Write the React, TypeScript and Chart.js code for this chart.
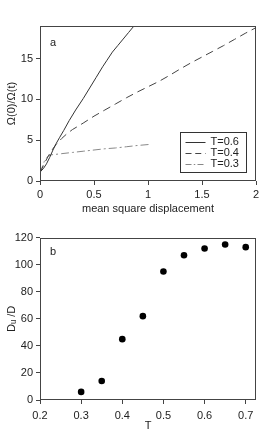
import React, { useEffect, useRef } from 'react';
import { Chart, registerables } from 'chart.js';

Chart.register(...registerables);

const FONT = '"Liberation Sans", Arial, Helvetica, sans-serif';
const TEXT = '#222';
const AXIS = '#444';

// ---- Panel a: Omega(0)/Omega(t) vs mean square displacement ----
const msdT06 = [0, 0.03, 0.06, 0.09, 0.12, 0.15, 0.18, 0.22, 0.27, 0.33, 0.4, 0.46, 0.52, 0.58, 0.62, 0.67, 0.72, 0.77, 0.82, 0.87, 0.9];
const omegaT06 = [1.1, 1.5, 2.1, 2.9, 3.8, 4.6, 5.3, 6.2, 7.4, 8.7, 10.1, 11.4, 12.7, 14.0, 14.8, 15.8, 16.6, 17.4, 18.2, 19.0, 19.4];

const msdT04 = [0, 0.05, 0.1, 0.15, 0.2, 0.25, 0.3, 0.4, 0.5, 0.6, 0.7, 0.8, 0.9, 1.0, 1.1, 1.2, 1.3, 1.4, 1.5, 1.6, 1.7, 1.8, 1.9, 2.0];
const omegaT04 = [1.0, 2.4, 3.6, 4.5, 5.2, 5.8, 6.3, 7.1, 7.95, 8.7, 9.45, 10.2, 10.9, 11.55, 12.2, 12.95, 13.75, 14.5, 15.2, 15.9, 16.6, 17.35, 18.1, 18.8];

const msdT03 = [0, 0.02, 0.04, 0.06, 0.08, 0.1, 0.2, 0.3, 0.4, 0.5, 0.6, 0.7, 0.8, 0.9, 1.03];
const omegaT03 = [1.0, 1.7, 2.4, 2.85, 3.1, 3.2, 3.35, 3.5, 3.65, 3.8, 3.95, 4.05, 4.2, 4.35, 4.5];

const legendLabels = ['T=0.6', 'T=0.4', 'T=0.3'];
const panelAXTicks = [0, 0.5, 1, 1.5, 2];
const panelAYTicks = [0, 5, 10, 15];

// ---- Panel b: D_u/D vs T ----
const temperatures = [0.3, 0.35, 0.4, 0.45, 0.5, 0.55, 0.6, 0.65, 0.7];
const diffRatio = [6, 14, 45, 62, 95, 107, 112, 115, 113];
const panelBXTicks = [0.2, 0.3, 0.4, 0.5, 0.6, 0.7];
const panelBYTicks = [0, 20, 40, 60, 80, 100, 120];

const styles = [
  { color: '#333', dash: [] as number[] },
  { color: '#444', dash: [8, 5] },
  { color: '#888', dash: [8, 3, 2, 3] },
];

const pts = (xs: number[], ys: number[]) => xs.map((x, i) => ({ x, y: ys[i] }));

const framePlugin = (label: string, lx: number, ly: number, legend: boolean) => ({
  id: 'frame_' + label,
  afterDatasetsDraw(chart: any) {
    const { ctx, chartArea } = chart;
    const l = Math.round(chartArea.left) + 0.5;
    const t = Math.round(chartArea.top) + 0.5;
    const r = Math.round(chartArea.right) - 0.5;
    const b = Math.round(chartArea.bottom) - 0.5;
    ctx.save();
    ctx.strokeStyle = AXIS;
    ctx.lineWidth = 1;
    ctx.setLineDash([]);
    ctx.strokeRect(l, t, r - l, b - t);
    ctx.fillStyle = TEXT;
    ctx.font = '11px ' + FONT;
    ctx.textAlign = 'center';
    ctx.textBaseline = 'middle';
    ctx.fillText(label, chartArea.left + lx, chartArea.top + ly);
    if (legend) {
      const bw = 66, bh = 40;
      const bx = Math.round(chartArea.right - 10 - bw) + 0.5;
      const by = Math.round(chartArea.bottom - 9 - bh) + 0.5;
      ctx.fillStyle = '#fff';
      ctx.fillRect(bx, by, bw, bh);
      ctx.strokeStyle = '#333';
      ctx.strokeRect(bx, by, bw, bh);
      legendLabels.forEach((txt, i) => {
        const yy = by + 9 + i * 11;
        ctx.strokeStyle = styles[i].color;
        ctx.setLineDash(styles[i].dash.map((d) => d * 0.75));
        ctx.beginPath();
        ctx.moveTo(bx + 5, Math.round(yy) + 0.5);
        ctx.lineTo(bx + 25, Math.round(yy) + 0.5);
        ctx.stroke();
        ctx.setLineDash([]);
        ctx.fillStyle = TEXT;
        ctx.textAlign = 'left';
        ctx.fillText(txt, bx + 30, yy);
      });
    }
    ctx.restore();
  },
});

const axisCommon = (ticks: number[], min: number, max: number, pad: number) => ({
  type: 'linear' as const,
  min,
  max,
  afterBuildTicks: (s: any) => {
    s.ticks = ticks.map((v) => ({ value: v }));
  },
  ticks: {
    color: TEXT,
    font: { family: FONT, size: 11 },
    padding: pad,
    callback: (v: any) => String(v),
    maxRotation: 0,
    autoSkip: false,
  },
  grid: { display: true, drawOnChartArea: false, drawTicks: true, tickLength: 4, color: AXIS, lineWidth: 1 },
  border: { display: false },
});

function ChartA() {
  const ref = useRef<HTMLCanvasElement>(null);
  useEffect(() => {
    const chart = new Chart(ref.current!, {
      type: 'line',
      data: {
        datasets: [
          { label: legendLabels[0], data: pts(msdT06, omegaT06) },
          { label: legendLabels[1], data: pts(msdT04, omegaT04) },
          { label: legendLabels[2], data: pts(msdT03, omegaT03) },
        ].map((d, i) => ({
          ...d,
          borderColor: styles[i].color,
          borderDash: styles[i].dash,
          borderWidth: 1,
          pointRadius: 0,
          tension: 0,
          fill: false,
        })),
      },
      options: {
        responsive: false,
        animation: false,
        layout: { padding: { top: 26, right: 17, left: 0, bottom: 0 } },
        plugins: { legend: { display: false }, tooltip: { enabled: false } },
        scales: {
          x: {
            ...axisCommon(panelAXTicks, 0, 2, 3.7),
            title: { display: true, text: 'mean square displacement', color: TEXT, font: { family: FONT, size: 11 }, padding: { top: 0, bottom: 0 } },
            afterFit: (s: any) => { s.height = 35; },
          },
          y: {
            ...axisCommon(panelAYTicks, 0, 19, 3),
            title: { display: true, text: 'Ω(0)/Ω(t)', color: TEXT, font: { family: FONT, size: 11 }, padding: { top: 5.4, bottom: 0 } },
            afterFit: (s: any) => { s.width = 40; },
          },
        },
      },
      plugins: [framePlugin('a', 13, 17, true)],
    } as any);
    return () => chart.destroy();
  }, []);
  return <canvas ref={ref} width={273} height={216} style={{ display: 'block' }} />;
}

function ChartB() {
  const ref = useRef<HTMLCanvasElement>(null);
  useEffect(() => {
    const chart = new Chart(ref.current!, {
      type: 'scatter',
      data: {
        datasets: [
          {
            label: 'Du/D',
            data: pts(temperatures, diffRatio),
            backgroundColor: '#000',
            borderColor: '#000',
            pointRadius: 3.3,
            pointBorderWidth: 0,
          },
        ],
      },
      options: {
        responsive: false,
        animation: false,
        layout: { padding: { top: 21.7, right: 17, left: 0, bottom: 0 } },
        plugins: { legend: { display: false }, tooltip: { enabled: false } },
        scales: {
          x: {
            ...axisCommon(panelBXTicks, 0.2, 0.725, 5.2),
            title: { display: true, text: 'T', color: TEXT, font: { family: FONT, size: 11 }, padding: { top: 0, bottom: 1.4 } },
            afterFit: (s: any) => { s.height = 34; },
          },
          y: {
            ...axisCommon(panelBYTicks, 0, 120, 3),
            title: { display: true, text: 'D\u1D64 /D', color: TEXT, font: { family: FONT, size: 11 }, padding: { top: 5.4, bottom: 0 } },
            afterFit: (s: any) => { s.width = 40; },
          },
        },
      },
      plugins: [framePlugin('b', 13, 14, false)],
    } as any);
    return () => chart.destroy();
  }, []);
  return <canvas ref={ref} width={273} height={218} style={{ display: 'block' }} />;
}

export default function App() {
  return (
    <div style={{ position: 'absolute', left: 0, top: 0, width: 273, height: 434, background: '#fff' }}>
      <ChartA />
      <ChartB />
    </div>
  );
}
